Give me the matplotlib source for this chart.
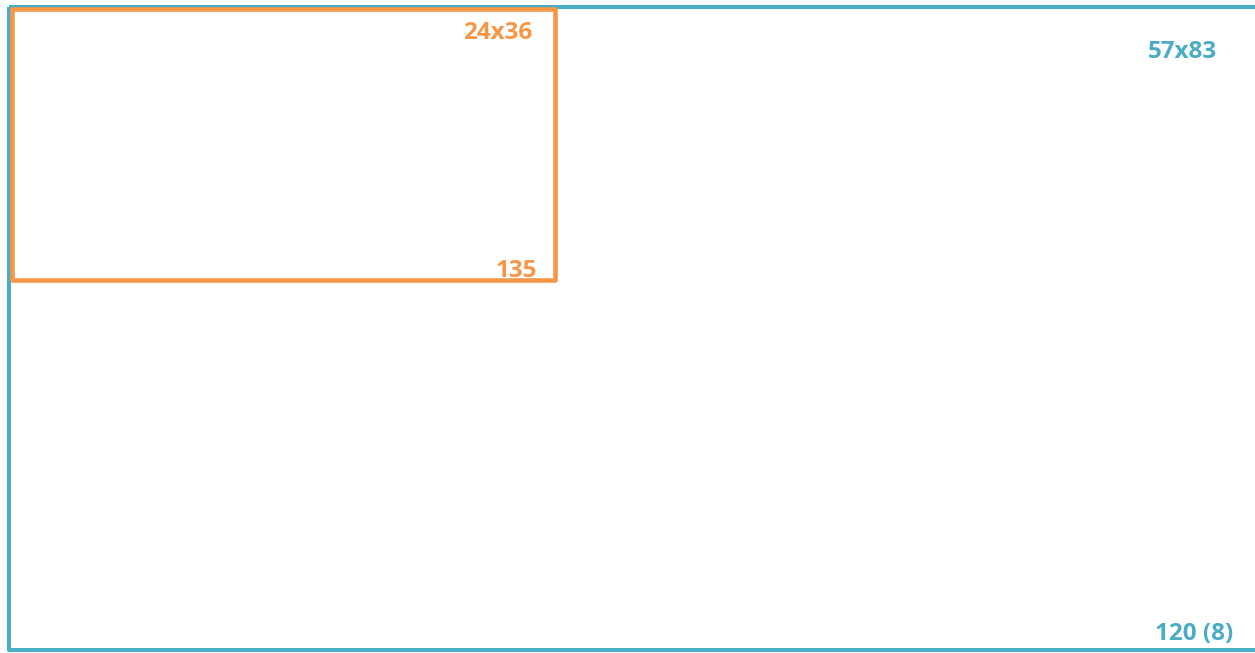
import matplotlib
matplotlib.use("Agg")
import matplotlib.pyplot as plt
from matplotlib.patches import Rectangle

# Data: film formats (height x width in mm)
formats = ["120 (8)", "135"]
heights_mm = [57, 24]
widths_mm = [83, 36]
colors = ["#4BACC6", "#F79646"]
linewidths = [2.9, 3.3]
inset = [0.0, 0.25]  # small visual inset of the inner frame (mm)

plt.rcParams['font.family'] = ['Open Sans', 'DejaVu Sans']

fig = plt.figure(figsize=(12.55, 6.53), dpi=100)
ax = fig.add_axes([0, 0, 1, 1])
ax.set_xlim(-0.564, 82.66)
ax.set_ylim(57.26, -0.576)
ax.axis('off')

# label offsets (points) relative to top-right / bottom-right corners
size_off = [(-31, -33), (-16.5, -17)]
name_off = [(-19, 3), (-13, -2)]

for fmt, h, w, c, lw, ins, so, no in zip(formats, heights_mm, widths_mm, colors,
                                         linewidths, inset, size_off, name_off):
    ax.add_patch(Rectangle((ins, ins), w, h, fill=False, edgecolor=c,
                           linewidth=lw, joinstyle='round', clip_on=False))
    ax.annotate(f"{h}x{w}", xy=(ins + w, ins), xytext=so, textcoords='offset points',
                ha='right', va='center', color=c, fontsize=17.5, fontweight='bold',
                annotation_clip=False)
    ax.annotate(fmt, xy=(ins + w, ins + h), xytext=no, textcoords='offset points',
                ha='right', va='bottom', color=c, fontsize=17.5, fontweight='bold',
                annotation_clip=False)

fig.savefig("out.png", dpi=100, facecolor='white')
